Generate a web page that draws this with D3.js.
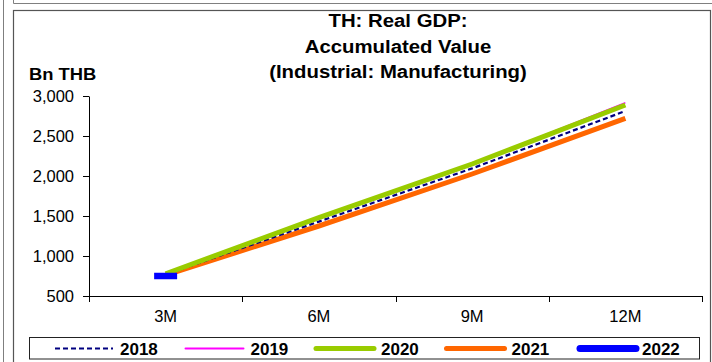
<!DOCTYPE html>
<html><head><meta charset="utf-8">
<script src="https://cdn.jsdelivr.net/npm/d3@7"></script>
<style>
html,body{margin:0;padding:0;background:#fff;}
svg{display:block;font-family:"Liberation Sans",Arial,sans-serif;}
</style></head>
<body>
<svg id="c" width="712" height="362"></svg>
<script>
const categories = ["3M","6M","9M","12M"];
const seriesNames = ["2018","2019","2020","2021","2022"];
const v2018 = [770, 1430, 2095, 2812];
const v2019 = [778, 1481, 2152, 2915];
const v2020 = [778, 1480, 2150, 2887];
const v2021 = [760, 1375, 2025, 2721];
const v2022 = [750];
const yTicks = [500, 1000, 1500, 2000, 2500, 3000];
const titleLines = ["TH: Real GDP:", "Accumulated Value", "(Industrial: Manufacturing)"];
const yUnit = "Bn THB";

const styles = {
  "2018": {color:"#000080", width:2.2, dash:"5,3"},
  "2019": {color:"#FF00FF", width:1.6, dash:null},
  "2020": {color:"#99CC00", width:5, dash:null},
  "2021": {color:"#FF6600", width:5, dash:null},
  "2022": {color:"#0000FF", width:7, dash:null}
};
const data = [v2018, v2019, v2020, v2021, v2022];

const svg = d3.select("#c");
const bc = "#7f7f7f";
// frame lines
svg.append("line").attr("x1",3.5).attr("x2",3.5).attr("y1",0).attr("y2",362).attr("stroke",bc).attr("stroke-width",1);
svg.append("line").attr("x1",13.5).attr("x2",712).attr("y1",3.5).attr("y2",3.5).attr("stroke",bc);
svg.append("line").attr("x1",13.5).attr("x2",13.5).attr("y1",0).attr("y2",3.5).attr("stroke",bc);
svg.append("rect").attr("x",13.5).attr("y",10.5).attr("width",697).attr("height",360).attr("fill","none").attr("stroke","#555").attr("stroke-width",1.2);

const x = d3.scaleBand().domain(categories).range([89, 702]).padding(0);
const y = d3.scaleLinear().domain([500, 3000]).range([296, 96]);
const cx = c => x(c) + x.bandwidth()/2;

// title
const tg = svg.append("g");
titleLines.forEach((t,i)=>{
  tg.append("text").attr("transform",`translate(398,${27+i*25.5}) scale(1.1,1)`)
    .attr("text-anchor","middle").attr("font-weight","bold").attr("font-size",18.5).text(t);
});
svg.append("text").attr("transform","translate(29,80) scale(1.08,1)").attr("font-weight","bold").attr("font-size",17).text(yUnit);

// y axis
const ya = svg.append("g").attr("transform","translate(89,0)")
  .call(d3.axisLeft(y).tickValues(yTicks).tickFormat(d3.format(",")).tickSize(6).tickSizeOuter(0).tickPadding(9));
ya.select(".domain").attr("stroke","#000");
ya.selectAll(".tick line").attr("stroke","#000");
ya.selectAll(".tick text").attr("font-size",16.5).attr("fill","#000").attr("font-family","Liberation Sans, Arial, sans-serif");

// x axis
const xa = svg.append("g").attr("transform","translate(0,296)")
  .call(d3.axisBottom(x).tickSize(0).tickPadding(14));
xa.select(".domain").remove();
xa.selectAll(".tick text").attr("font-size",16.5).attr("fill","#000").attr("font-family","Liberation Sans, Arial, sans-serif");
svg.append("line").attr("x1",89).attr("x2",702).attr("y1",296.5).attr("y2",296.5).attr("stroke","#000");
const bounds = categories.map(c=>x(c)).concat([x.range()[1]]);
svg.selectAll(".xb").data(bounds).join("line").attr("class","xb")
  .attr("x1",d=>Math.round(d)+0.5).attr("x2",d=>Math.round(d)+0.5).attr("y1",296).attr("y2",302).attr("stroke","#000");

// lines
const line = d3.line().x((d,i)=>cx(categories[i])).y(d=>y(d));
const order = [1,3,0,2];
order.forEach(k=>{
  const s = styles[seriesNames[k]];
  svg.append("path").datum(data[k]).attr("d",line).attr("fill","none")
    .attr("stroke",s.color).attr("stroke-width",s.width).attr("stroke-dasharray",s.dash)
    .attr("stroke-linejoin","round");
});
// 2022 single point as dash marker
const s22 = styles["2022"];
svg.selectAll(".m22").data(v2022).join("line").attr("class","m22")
  .attr("x1",(d,i)=>cx(categories[i])-11.5).attr("x2",(d,i)=>cx(categories[i])+11.5)
  .attr("y1",d=>y(d)).attr("y2",d=>y(d)).attr("stroke",s22.color).attr("stroke-width",6.5);

// legend
svg.append("rect").attr("x",29.5).attr("y",337.5).attr("width",670).attr("height",21.5)
  .attr("fill","#fff").attr("stroke","#222").attr("stroke-width",1);
seriesNames.forEach((n,i)=>{
  const s = styles[n];
  const x0 = 55 + i*130.5;
  svg.append("line").attr("x1",x0+ (n==="2022"?3:0)).attr("x2",x0+ (n==="2022"?59:58)).attr("y1",348.5).attr("y2",348.5)
    .attr("stroke",s.color).attr("stroke-width", n==="2018"?2:(n==="2019"?2:s.width))
    .attr("stroke-dasharray",n==="2018"?"5,3":null).attr("stroke-linecap", n==="2018"?"butt":"round");
  svg.append("text").attr("x",x0+65).attr("y",354.5).attr("font-weight","bold").attr("font-size",17).text(n);
});
</script>
</body></html>
